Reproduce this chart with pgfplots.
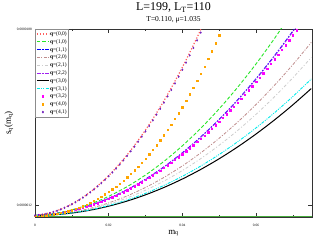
\documentclass[border=0pt]{standalone}
\usepackage{fontspec}
\setmainfont{Liberation Serif}
\usepackage{pgfplots}
\pgfplotsset{compat=1.18}
\definecolor{cRed}{RGB}{255,95,95}
\definecolor{cGreen}{RGB}{40,230,40}
\definecolor{cBlue}{RGB}{0,0,255}
\definecolor{cRosy}{RGB}{190,140,140}
\definecolor{cGray}{RGB}{205,205,205}
\definecolor{cPurple}{RGB}{160,32,240}
\definecolor{cCyan}{RGB}{0,235,235}
\definecolor{cMag}{RGB}{255,0,255}
\definecolor{cOrange}{RGB}{255,165,0}
\definecolor{cIndigo}{RGB}{114,33,188}
\definecolor{cBase}{RGB}{70,170,60}
\pgfplotsset{
  lineleg/.style={legend image code/.code={\draw[##1] (0bp,0bp) -- (12bp,0bp);}},
  markleg/.style={legend image code/.code={\draw[##1] plot coordinates {(6bp,0bp)};}},
}
\begin{document}
\begin{tikzpicture}
\useasboundingbox (-35bp,-23bp) rectangle (278bp,217bp);
\begin{axis}[
  at={(0,0)}, anchor=south west,
  scale only axis, width=277bp, height=188bp,
  xmin=0, xmax=0.0752, ymin=0, ymax=188,
  axis line style={black!80, line width=0.8bp},
  tick align=inside,
  major tick length=4bp, minor tick length=2bp,
  tick style={black!80, line width=0.5bp},
  scaled x ticks=false, scaled y ticks=false,
  xtick={0,0.02,0.04,0.06}, xticklabels={0,0.02,0.04,0.06},
  minor xtick={0.01,0.03,0.05,0.07},
  ytick={12,188}, yticklabels={0.0000012,0.0000188},
  ticklabel style={font=\fontsize{3.5}{4}\selectfont, inner sep=0pt},
  xticklabel style={yshift=-7bp},
  yticklabel style={xshift=-3bp},
  every axis title shift=0pt,
  title={L=199, L\textsubscript{T}=110},
  title style={font=\fontsize{12}{14}\selectfont, at={(axis description cs:0.5,1)}, anchor=base, yshift=18bp, inner sep=0pt},
  xlabel={m\textsubscript{q}},
  xlabel style={font=\fontsize{9}{10}\selectfont, at={(axis description cs:0.5,0)}, anchor=base, yshift=-17bp, inner sep=0pt},
  ylabel={s\textsubscript{q}(m\textsubscript{q})},
  ylabel style={font=\fontsize{9}{10}\selectfont, at={(axis description cs:-0.087,0.5)}, anchor=base, inner sep=0pt},
  extra description/.code={\node[font=\fontsize{7.5}{9}\selectfont, anchor=base, yshift=7.5bp, inner sep=0pt] at (0.5,1) {T=0.110, μ=1.035};},
  legend cell align=left,
  legend style={at={(0,1)}, anchor=north west, draw=black!45, fill=white, line width=0.6bp,
    font=\fontsize{5.5}{6}\selectfont, inner xsep=1bp, inner ysep=1.5bp, row sep=1.2bp,
    nodes={inner sep=0.6bp, text height=4.2bp, text depth=1.2bp}},
  lineleg,
]
% (0,0)
\addplot[cRed, line width=1.2bp, dash pattern=on 1.2bp off 1.8bp, smooth] coordinates {
(0,1.5)(0.005,5.06)(0.010,12.90)(0.015,25.01)(0.020,41.39)(0.025,62.06)(0.030,87.0)(0.035,116.20)(0.040,149.69)(0.045,187.45)(0.050,229.49)};
\addlegendentry{\textbf{q}=(0,0)}
% (1,0)
\addplot[cGreen, line width=0.9bp, dash pattern=on 3.5bp off 2bp, smooth] coordinates {
(0,1.5)(0.005,3.35)(0.010,7.16)(0.015,12.93)(0.020,20.65)(0.025,30.34)(0.030,41.99)(0.035,55.61)(0.040,71.18)(0.045,88.71)(0.050,108.20)(0.055,129.65)(0.060,153.07)(0.065,178.44)(0.070,205.77)};
\addlegendentry{\textbf{q}=(1,0)}
% (1,1)
\addplot[cBlue, line width=0.9bp, dash pattern=on 4bp off 1.5bp on 1.5bp off 1.5bp, smooth] coordinates {
(0,1.5)(0.005,3.12)(0.010,6.51)(0.015,11.69)(0.020,18.64)(0.025,27.37)(0.030,37.88)(0.035,50.16)(0.040,64.23)(0.045,80.07)(0.050,97.69)(0.055,117.09)(0.060,138.27)(0.065,161.23)(0.070,185.96)(0.075,212.48)};
\addlegendentry{\textbf{q}=(1,1)}
% (2,0)
\addplot[cRosy, line width=0.8bp, dash pattern=on 3bp off 1.5bp on 1bp off 1.5bp, smooth] coordinates {
(0,1.5)(0.005,2.36)(0.010,4.75)(0.015,8.66)(0.020,14.10)(0.025,21.06)(0.030,29.55)(0.035,39.56)(0.040,51.10)(0.045,64.16)(0.050,78.75)(0.055,94.86)(0.060,112.50)(0.065,131.66)(0.070,152.35)(0.075,174.56)};
\addlegendentry{\textbf{q}=(2,0)}
% (2,1)
\addplot[cGray, line width=0.8bp, dash pattern=on 3bp off 2bp on 1bp off 2bp, smooth] coordinates {
(0,1.5)(0.005,2.20)(0.010,4.31)(0.015,7.82)(0.020,12.74)(0.025,19.06)(0.030,26.79)(0.035,35.92)(0.040,46.46)(0.045,58.40)(0.050,71.75)(0.055,86.50)(0.060,102.66)(0.065,120.22)(0.070,139.19)(0.075,159.56)};
\addlegendentry{\textbf{q}=(2,1)}
% (2,2)
\addplot[cPurple, line width=0.8bp, dash pattern=on 4bp off 1.5bp on 1.5bp off 1.5bp, smooth] coordinates {
(0,1.5)(0.005,3.10)(0.010,6.45)(0.015,11.60)(0.020,18.50)(0.025,27.20)(0.030,37.65)(0.035,49.90)(0.040,63.90)(0.045,79.70)(0.050,97.30)(0.055,116.60)(0.060,137.70)(0.065,160.60)(0.070,185.30)(0.075,211.80)};
\addlegendentry{\textbf{q}=(2,2)}
% (3,0)
\addplot[black, line width=1bp, smooth] coordinates {
(0,1.5)(0.005,2.16)(0.010,3.93)(0.015,6.82)(0.020,10.82)(0.025,15.94)(0.030,22.17)(0.035,29.52)(0.040,37.98)(0.045,47.56)(0.050,58.25)(0.055,70.06)(0.060,82.98)(0.065,97.02)(0.070,112.17)(0.075,128.44)};
\addlegendentry{\textbf{q}=(3,0)}
% (3,1)
\addplot[cCyan, line width=0.9bp, dash pattern=on 3bp off 1.2bp on 1bp off 1.2bp on 1bp off 1.2bp, smooth] coordinates {
(0,1.5)(0.005,2.20)(0.010,4.10)(0.015,7.20)(0.020,11.50)(0.025,17.00)(0.030,23.70)(0.035,31.60)(0.040,40.70)(0.045,51.00)(0.050,62.50)(0.055,75.20)(0.060,89.10)(0.065,104.20)(0.070,120.50)(0.075,138.00)};
\addlegendentry{\textbf{q}=(3,1)}
% (3,2)
\addplot[only marks, mark=square*, mark size=0.7bp, cMag, markleg] coordinates {
(0,1.5)(0.001,1.67)(0.002,1.92)(0.003,2.23)(0.004,2.62)(0.005,3.07)(0.006,3.59)(0.007,4.19)(0.008,4.85)(0.009,5.58)(0.010,6.38)(0.011,7.25)(0.012,8.19)(0.013,9.20)(0.014,10.28)(0.015,11.43)(0.016,12.65)(0.017,13.94)(0.018,15.30)(0.019,16.72)(0.020,18.22)(0.021,19.79)(0.022,21.42)(0.023,23.13)(0.024,24.91)(0.025,26.75)(0.026,28.67)(0.027,30.65)(0.028,32.70)(0.029,34.83)(0.030,37.02)(0.031,39.28)(0.032,41.62)(0.033,44.02)(0.034,46.49)(0.035,49.03)(0.036,51.64)(0.037,54.32)(0.038,57.07)(0.039,59.89)(0.040,62.78)(0.041,65.74)(0.042,68.77)(0.043,71.87)(0.044,75.03)(0.045,78.27)(0.046,81.58)(0.047,84.95)(0.048,88.40)(0.049,91.92)(0.050,95.50)(0.051,99.16)(0.052,102.88)(0.053,106.67)(0.054,110.54)(0.055,114.47)(0.056,118.47)(0.057,122.55)(0.058,126.69)(0.059,130.90)(0.060,135.18)(0.061,139.53)(0.062,143.95)(0.063,148.44)(0.064,153.00)(0.065,157.63)(0.066,162.33)(0.067,167.10)(0.068,171.94)(0.069,176.84)(0.070,181.82)(0.071,186.87)(0.072,191.98)};
\addlegendentry{\textbf{q}=(3,2)}
% (4,0)
\addplot[only marks, mark=square*, mark size=0.7bp, cOrange, markleg] coordinates {
(0,1.5)(0.001,1.55)(0.002,1.70)(0.003,1.96)(0.004,2.33)(0.005,2.81)(0.006,3.40)(0.007,4.11)(0.008,4.94)(0.009,5.89)(0.010,6.96)(0.011,8.16)(0.012,9.49)(0.013,10.95)(0.014,12.55)(0.015,14.28)(0.016,16.15)(0.017,18.17)(0.018,20.33)(0.019,22.64)(0.020,25.10)(0.021,27.71)(0.022,30.48)(0.023,33.41)(0.024,36.50)(0.025,39.75)(0.026,43.17)(0.027,46.76)(0.028,50.51)(0.029,54.45)(0.030,58.56)(0.031,62.85)(0.032,67.32)(0.033,71.98)(0.034,76.82)(0.035,81.86)(0.036,87.09)(0.037,92.51)(0.038,98.13)(0.039,103.95)(0.040,109.98)(0.041,116.21)(0.042,122.65)(0.043,129.30)(0.044,136.16)(0.045,143.25)(0.046,150.55)(0.047,158.07)(0.048,165.82)(0.049,173.79)(0.050,181.99)(0.051,190.43)};
\addlegendentry{\textbf{q}=(4,0)}
% (4,1)
\addplot[only marks, mark=diamond*, mark size=0.9bp, cIndigo, markleg] coordinates {
(0,1.5)(0.001,1.87)(0.002,2.41)(0.003,3.11)(0.004,3.98)(0.005,5.02)(0.006,6.23)(0.007,7.61)(0.008,9.15)(0.009,10.87)(0.010,12.75)(0.011,14.80)(0.012,17.01)(0.013,19.40)(0.014,21.95)(0.015,24.67)(0.016,27.56)(0.017,30.61)(0.018,33.84)(0.019,37.23)(0.020,40.79)(0.021,44.52)(0.022,48.42)(0.023,52.48)(0.024,56.71)(0.025,61.11)(0.026,65.68)(0.027,70.42)(0.028,75.32)(0.029,80.39)(0.030,85.63)(0.031,91.04)(0.032,96.62)(0.033,102.36)(0.034,108.27)(0.035,114.35)(0.036,120.60)(0.037,127.02)(0.038,133.60)(0.039,140.35)(0.040,147.27)(0.041,154.36)(0.042,161.62)(0.043,169.04)(0.044,176.63)(0.045,184.39)(0.046,192.32)};
\addlegendentry{\textbf{q}=(4,1)}
% baseline
\addplot[cBase, line width=1.3bp, forget plot] coordinates {(0,0.5)(0.0752,0.5)};
\end{axis}
\end{tikzpicture}
\end{document}
